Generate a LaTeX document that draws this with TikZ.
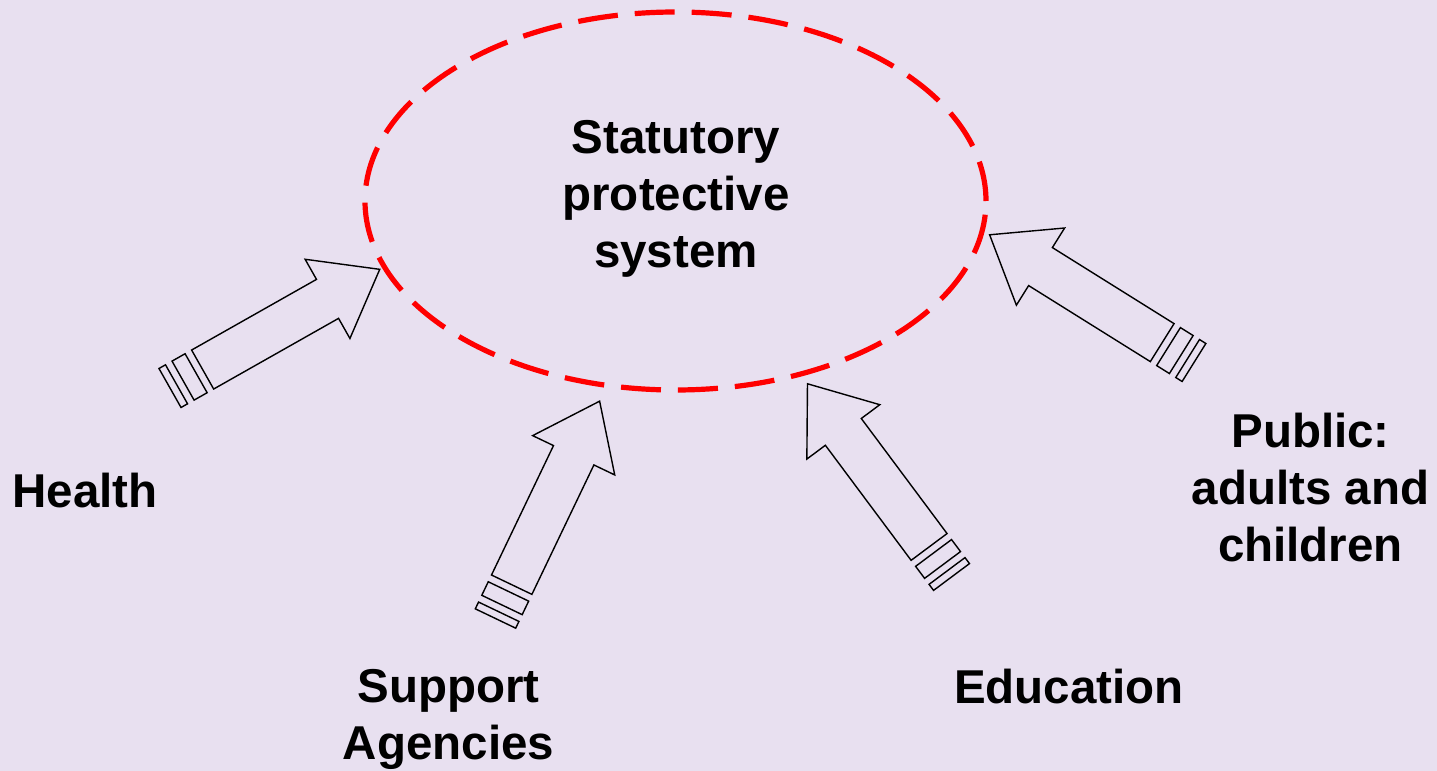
\documentclass[tikz,border=0pt]{standalone}
\usepackage{fontspec}
\setmainfont{Liberation Sans}
\usetikzlibrary{shapes.geometric}
\definecolor{lavender}{RGB}{232,224,240}

\begin{document}
\begin{tikzpicture}[x=0.5pt, y=-0.5pt,
  sector/.style = {font=\fontsize{23.75pt}{28.5pt}\selectfont\bfseries, align=center, inner sep=0pt},
  system/.style = {ellipse, draw=red, line width=2.6pt, dash pattern=on 20pt off 8.5pt,
                   minimum width=310.5pt, minimum height=189pt, inner sep=0pt},
  stripedarrow/.pic = {
    \draw[line width=0.7pt] (0,-22.4) rectangle (7.5,22.4);
    \draw[line width=0.7pt] (15,-22.4) rectangle (30,22.4);
    \draw[line width=0.7pt, line join=miter] (37.5,-22.4) -- (181,-22.4) -- (181,-45.5) -- (241,0)
          -- (181,45.5) -- (181,22.4) -- (37.5,22.4) -- cycle;
  },
  ]
  \fill[lavender] (0,0) rectangle (1437,771);
  \useasboundingbox (0,0) rectangle (1437,771);

  \node[system] (statutory) at (675.5,201) {};
  \node[sector] (statutorytext) at (676,199) {Statutory\\protective\\system};

  \pic[rotate=29.5]  at (170,388)   {stripedarrow};
  \pic[rotate=64.4]  at (495.5,618.5) {stripedarrow};
  \pic[rotate=126.7] at (951.5,577) {stripedarrow};
  \pic[rotate=148]   at (1194,362.5) {stripedarrow};

  \node[sector] (health)    at (85,491)     {Health};
  \node[sector] (support)   at (448.5,719)  {Support\\Agencies};
  \node[sector] (education) at (1069,686.5) {Education};
  \node[sector] (public)    at (1310.5,487.5) {Public:\\adults and\\children};
\end{tikzpicture}
\end{document}
